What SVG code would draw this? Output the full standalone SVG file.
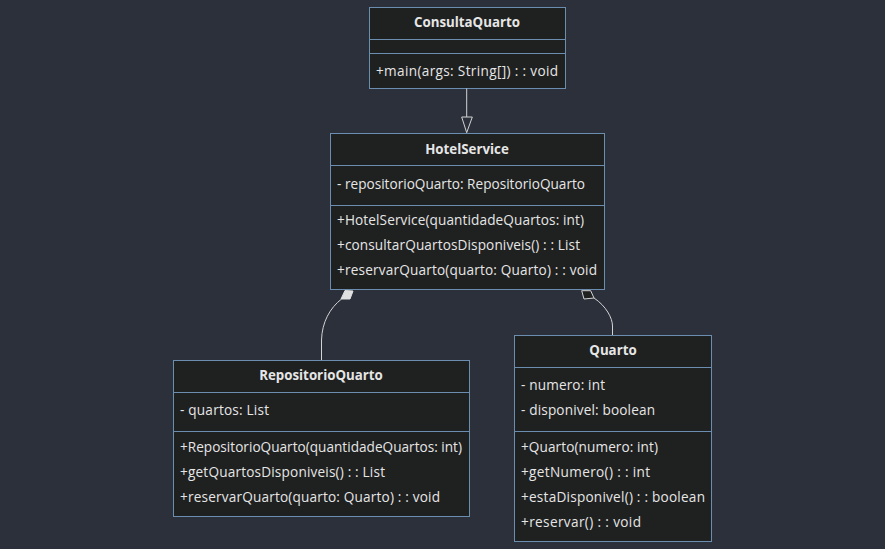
<svg xmlns="http://www.w3.org/2000/svg" width="885" height="549" viewBox="0 0 885 549">
<style>
.box{fill:#1f2020;stroke:#6b8db0;stroke-width:1}
.sep{stroke:#6b8db0;stroke-width:1}
.t{font-family:"Open Sans","Noto Sans",sans-serif;font-size:13.6px;fill:#e6e6e6}
.h{font-weight:bold;text-anchor:middle;font-size:13.3px}
.edge{fill:none;stroke:#d3d3d3;stroke-width:1}
</style>
<rect x="0" y="0" width="885" height="549" fill="#2b303b"/>
<g id="ConsultaQuarto">
<rect class="box" x="369.5" y="7.5" width="196" height="81"/>
<line class="sep" x1="369.5" y1="39.5" x2="565.5" y2="39.5"/>
<line class="sep" x1="369.5" y1="53.5" x2="565.5" y2="53.5"/>
<text class="t h" x="467" y="27">ConsultaQuarto</text>
<text class="t" x="376" y="76" textLength="182" lengthAdjust="spacing">+main(args: String[]) : : void</text>
</g>
<g id="HotelService">
<rect class="box" x="330.5" y="133.5" width="274" height="156"/>
<line class="sep" x1="330.5" y1="165.5" x2="604.5" y2="165.5"/>
<line class="sep" x1="330.5" y1="205.5" x2="604.5" y2="205.5"/>
<text class="t h" x="467" y="154">HotelService</text>
<text class="t" x="337" y="189" textLength="248" lengthAdjust="spacing">- repositorioQuarto: RepositorioQuarto</text>
<text class="t" x="337" y="225" textLength="247" lengthAdjust="spacing">+HotelService(quantidadeQuartos: int)</text>
<text class="t" x="337" y="250" textLength="243" lengthAdjust="spacing">+consultarQuartosDisponiveis() : : List</text>
<text class="t" x="337" y="275" textLength="260" lengthAdjust="spacing">+reservarQuarto(quarto: Quarto) : : void</text>
</g>
<g id="RepositorioQuarto">
<rect class="box" x="173.5" y="360.5" width="296" height="156"/>
<line class="sep" x1="173.5" y1="392.5" x2="469.5" y2="392.5"/>
<line class="sep" x1="173.5" y1="431.5" x2="469.5" y2="431.5"/>
<text class="t h" x="321" y="380">RepositorioQuarto</text>
<text class="t" x="180" y="415" textLength="89" lengthAdjust="spacing">- quartos: List</text>
<text class="t" x="180" y="452" textLength="282" lengthAdjust="spacing">+RepositorioQuarto(quantidadeQuartos: int)</text>
<text class="t" x="180" y="477" textLength="205" lengthAdjust="spacing">+getQuartosDisponiveis() : : List</text>
<text class="t" x="180" y="502" textLength="260" lengthAdjust="spacing">+reservarQuarto(quarto: Quarto) : : void</text>
</g>
<g id="Quarto">
<rect class="box" x="514.5" y="335.5" width="197" height="206"/>
<line class="sep" x1="514.5" y1="367.5" x2="711.5" y2="367.5"/>
<line class="sep" x1="514.5" y1="431.5" x2="711.5" y2="431.5"/>
<text class="t h" x="613" y="355">Quarto</text>
<text class="t" x="521" y="390" textLength="84" lengthAdjust="spacing">- numero: int</text>
<text class="t" x="521" y="415" textLength="134" lengthAdjust="spacing">- disponivel: boolean</text>
<text class="t" x="521" y="452" textLength="137" lengthAdjust="spacing">+Quarto(numero: int)</text>
<text class="t" x="521" y="477" textLength="129" lengthAdjust="spacing">+getNumero() : : int</text>
<text class="t" x="521" y="502" textLength="184" lengthAdjust="spacing">+estaDisponivel() : : boolean</text>
<text class="t" x="521" y="527" textLength="120" lengthAdjust="spacing">+reservar() : : void</text>
</g>
<g id="connectors">
<path class="edge" d="M466.7,88.5 L466.7,117"/>
<polygon points="461.7,117 472.3,117 466.7,132.7" fill="none" stroke="#d3d3d3" stroke-width="1"/>
<path class="edge" d="M341.5,299 C330,308 322,322 321.5,340 L321.5,360"/>
<polygon points="345,290.5 353,291 350,299 341,299" fill="#e0e0e0" stroke="#e0e0e0" stroke-width="1"/>
<path class="edge" d="M594,298 C606,306 612.5,318 612.5,326 L612.5,335"/>
<polygon points="581.7,290.7 590.7,290.7 594,298 584,299" fill="#1f2020" stroke="#d3d3d3" stroke-width="1"/>
</g>
</svg>
